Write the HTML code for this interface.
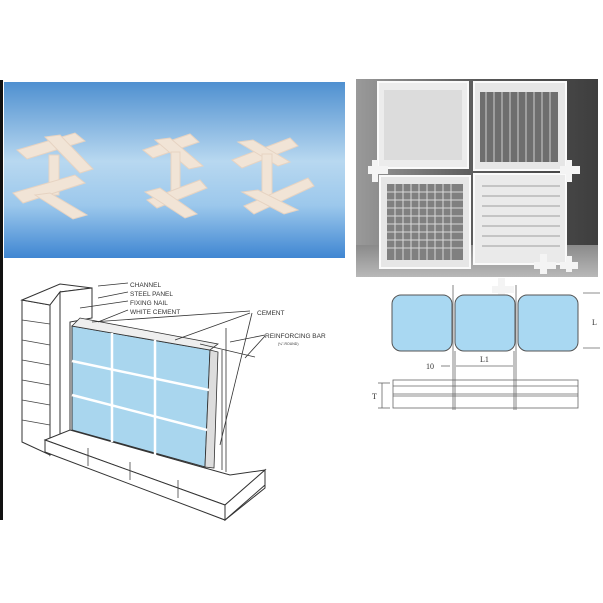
<!DOCTYPE html>
<html><head><meta charset="utf-8"><style>
html,body{margin:0;padding:0;background:#fff;}
body{width:603px;height:603px;overflow:hidden;position:relative;font-family:"Liberation Sans",sans-serif;}
</style></head><body>
<svg width="603" height="603" viewBox="0 0 603 603" xmlns="http://www.w3.org/2000/svg" style="position:absolute;left:0;top:0">
<defs>
<linearGradient id="bl" x1="0" y1="0" x2="0" y2="1">
<stop offset="0" stop-color="#4f90d0"/><stop offset="0.45" stop-color="#b8d8f0"/><stop offset="0.7" stop-color="#9cc8ec"/><stop offset="1" stop-color="#3f86d2"/>
</linearGradient>
<linearGradient id="gr" x1="0" y1="0" x2="1" y2="0">
<stop offset="0" stop-color="#9a9a9a"/><stop offset="0.5" stop-color="#5a5a5a"/><stop offset="1" stop-color="#3e3e3e"/>
</linearGradient>
<linearGradient id="fl" x1="0" y1="0" x2="0" y2="1">
<stop offset="0" stop-color="#8a8a8a"/><stop offset="1" stop-color="#b8b8b8"/>
</linearGradient>
</defs>
<rect x="0" y="80" width="3" height="440" fill="#111"/>
<!-- blue spacer photo -->
<rect x="4" y="82" width="341" height="176" fill="url(#bl)"/>
<g fill="#f1e4d6" stroke="#e6d3c2" stroke-width="1">
<g transform="translate(55,175)">
<polygon points="-38,-25 20,-42 30,-34 -28,-16"/><polygon points="-10,-38 5,-40 38,-6 25,-2"/>
<rect x="-6" y="-20" width="10" height="40"/>
<polygon points="-42,18 20,0 30,8 -32,28"/><polygon points="-20,20 -5,18 32,40 18,44"/>
</g>
<g transform="translate(175,170)">
<polygon points="-32,-20 15,-36 24,-28 -22,-12"/><polygon points="-20,-30 -5,-32 28,-4 14,-1"/>
<rect x="-4" y="-18" width="9" height="42"/>
<polygon points="-28,30 25,10 32,18 -18,38"/><polygon points="-30,22 -15,18 22,44 10,48"/>
</g>
<g transform="translate(268,170)">
<polygon points="-36,-10 22,-32 30,-24 -26,-2"/><polygon points="-30,-28 -15,-30 22,-8 10,-4"/>
<rect x="-6" y="-16" width="10" height="42"/>
<polygon points="-24,36 40,8 46,16 -14,44"/><polygon points="-26,22 -10,20 30,40 16,44"/>
</g>
</g>
<!-- glass block photo -->
<rect x="356" y="79" width="242" height="198" fill="url(#gr)"/>
<rect x="356" y="245" width="242" height="32" fill="url(#fl)"/>
<rect x="378" y="82" width="90" height="86" fill="#ececec" stroke="#fafafa" stroke-width="2"/>
<rect x="384" y="90" width="78" height="70" fill="#dcdcdc"/>
<rect x="474" y="82" width="92" height="88" fill="#e6e6e6" stroke="#fafafa" stroke-width="2"/>
<rect x="480" y="92" width="78" height="70" fill="#6e6e6e"/>
<g stroke="#cfcfcf" stroke-width="1">
<line x1="486" y1="92" x2="486" y2="162"/><line x1="494" y1="92" x2="494" y2="162"/><line x1="502" y1="92" x2="502" y2="162"/><line x1="510" y1="92" x2="510" y2="162"/><line x1="518" y1="92" x2="518" y2="162"/><line x1="526" y1="92" x2="526" y2="162"/><line x1="534" y1="92" x2="534" y2="162"/><line x1="542" y1="92" x2="542" y2="162"/><line x1="550" y1="92" x2="550" y2="162"/>
</g>
<rect x="380" y="176" width="90" height="92" fill="#e6e6e6" stroke="#fafafa" stroke-width="2"/>
<rect x="387" y="184" width="76" height="76" fill="#808080"/>
<g stroke="#d8d8d8" stroke-width="1">
<line x1="387" y1="192" x2="463" y2="192"/><line x1="387" y1="200" x2="463" y2="200"/><line x1="387" y1="208" x2="463" y2="208"/><line x1="387" y1="216" x2="463" y2="216"/><line x1="387" y1="224" x2="463" y2="224"/><line x1="387" y1="232" x2="463" y2="232"/><line x1="387" y1="240" x2="463" y2="240"/><line x1="387" y1="248" x2="463" y2="248"/>
<line x1="395" y1="184" x2="395" y2="260"/><line x1="403" y1="184" x2="403" y2="260"/><line x1="411" y1="184" x2="411" y2="260"/><line x1="419" y1="184" x2="419" y2="260"/><line x1="427" y1="184" x2="427" y2="260"/><line x1="435" y1="184" x2="435" y2="260"/><line x1="443" y1="184" x2="443" y2="260"/><line x1="451" y1="184" x2="451" y2="260"/>
</g>
<rect x="474" y="174" width="92" height="90" fill="#eaeaea" stroke="#fafafa" stroke-width="2"/>
<g stroke="#c4c4c4" stroke-width="2">
<line x1="482" y1="186" x2="560" y2="186"/><line x1="482" y1="196" x2="560" y2="196"/><line x1="482" y1="206" x2="560" y2="206"/><line x1="482" y1="216" x2="560" y2="216"/><line x1="482" y1="226" x2="560" y2="226"/><line x1="482" y1="236" x2="560" y2="236"/><line x1="482" y1="246" x2="560" y2="246"/>
</g>
<g fill="#f4f4f4">
<rect x="368" y="166" width="20" height="8"/><rect x="372" y="160" width="6" height="22"/>
<rect x="560" y="166" width="20" height="8"/><rect x="566" y="160" width="6" height="22"/>
<rect x="534" y="262" width="22" height="7"/><rect x="540" y="254" width="7" height="20"/>
<rect x="560" y="262" width="18" height="7"/><rect x="566" y="256" width="6" height="16"/>
<rect x="492" y="286" width="22" height="7"/><rect x="498" y="278" width="7" height="22"/>
</g>
<!-- installation drawing -->
<g stroke="#333" stroke-width="1" fill="#fff">
<polygon points="22,300 50,305 50,455 22,442"/>
<polygon points="22,300 60,284 92,288 60,292 50,305"/>
<polygon points="50,305 60,292 60,440 50,455"/>
<polygon points="60,292 92,288 92,318 70,322 70,440 60,440"/>
<polygon points="45,450 225,520 265,470 265,488 225,520"/>
<polygon points="45,440 70,430 205,468 230,475 265,470 225,505 45,440"/>
<polygon points="45,440 225,505 225,520 45,452"/>
<polygon points="225,505 265,470 265,485 225,520"/>
</g>
<g stroke="#444" stroke-width="0.8" fill="none">
<line x1="22" y1="320" x2="50" y2="324"/><line x1="22" y1="340" x2="50" y2="345"/><line x1="22" y1="360" x2="50" y2="365"/><line x1="22" y1="380" x2="50" y2="385"/><line x1="22" y1="400" x2="50" y2="405"/><line x1="22" y1="420" x2="50" y2="425"/>
<line x1="88" y1="448" x2="88" y2="466"/><line x1="130" y1="462" x2="130" y2="480"/><line x1="178" y1="480" x2="178" y2="498"/>
</g>
<polygon points="72,326 210,350 205,467 72,430" fill="#a9d6ee" stroke="#333" stroke-width="1"/>
<polygon points="210,350 218,352 214,468 205,467" fill="#ddd" stroke="#333" stroke-width="0.8"/>
<polygon points="72,326 80,318 218,344 210,350" fill="#eee" stroke="#333" stroke-width="0.8"/>
<g stroke="#fff" stroke-width="2.5">
<line x1="72" y1="361" x2="209" y2="390"/><line x1="72" y1="395" x2="207" y2="430"/>
<line x1="112" y1="333" x2="112" y2="442"/><line x1="155" y1="340" x2="155" y2="455"/>
</g>
<g stroke="#333" stroke-width="0.8">
<line x1="222" y1="350" x2="222" y2="470"/><line x1="226" y1="328" x2="226" y2="472"/>
<line x1="200" y1="344" x2="255" y2="357"/>
<line x1="98" y1="286" x2="128" y2="283"/><line x1="98" y1="298" x2="128" y2="292"/><line x1="80" y1="308" x2="128" y2="301"/><line x1="98" y1="322" x2="128" y2="310"/>
<line x1="92" y1="322" x2="250" y2="311"/><line x1="175" y1="340" x2="250" y2="313"/><line x1="220" y1="445" x2="252" y2="313"/>
<line x1="230" y1="342" x2="265" y2="335"/><line x1="245" y1="358" x2="265" y2="336"/>
</g>
<g font-size="6.5" fill="#333" font-family="Liberation Sans, sans-serif">
<text x="130" y="287">CHANNEL</text>
<text x="130" y="296">STEEL PANEL</text>
<text x="130" y="305">FIXING NAIL</text>
<text x="130" y="314">WHITE CEMENT</text>
<text x="257" y="315">CEMENT</text>
<text x="265" y="338">REINFORCING BAR</text>
<text x="278" y="345" font-size="3.5">(¼"-ROUND)</text>
</g>
<!-- dimension diagram -->
<g fill="#a9d8f2" stroke="#555" stroke-width="1">
<rect x="392" y="295" width="60" height="56" rx="9"/>
<rect x="455" y="295" width="60" height="56" rx="9"/>
<rect x="518" y="295" width="60" height="56" rx="9"/>
</g>
<g stroke="#666" stroke-width="0.8" fill="none">
<line x1="453" y1="285" x2="453" y2="410"/><line x1="516" y1="285" x2="516" y2="410"/>
<line x1="455" y1="351" x2="455" y2="410"/><line x1="514" y1="351" x2="514" y2="410"/>
<line x1="583" y1="293" x2="600" y2="293"/><line x1="583" y1="348" x2="600" y2="348"/>
<rect x="393" y="380" width="185" height="28"/>
<line x1="393" y1="386" x2="578" y2="386"/><line x1="393" y1="394" x2="578" y2="394"/><line x1="393" y1="396" x2="578" y2="396"/>
<line x1="456" y1="366" x2="513" y2="366"/><line x1="441" y1="366" x2="450" y2="366"/>
<line x1="378" y1="383" x2="390" y2="383"/><line x1="378" y1="408" x2="390" y2="408"/><line x1="382" y1="383" x2="382" y2="408"/>
</g>
<g font-family="Liberation Serif, serif" font-size="8" fill="#333">
<text x="426" y="369">10</text>
<text x="480" y="362">L1</text>
<text x="592" y="325">L</text>
<text x="372" y="399">T</text>
</g>
</svg>
</body></html>
